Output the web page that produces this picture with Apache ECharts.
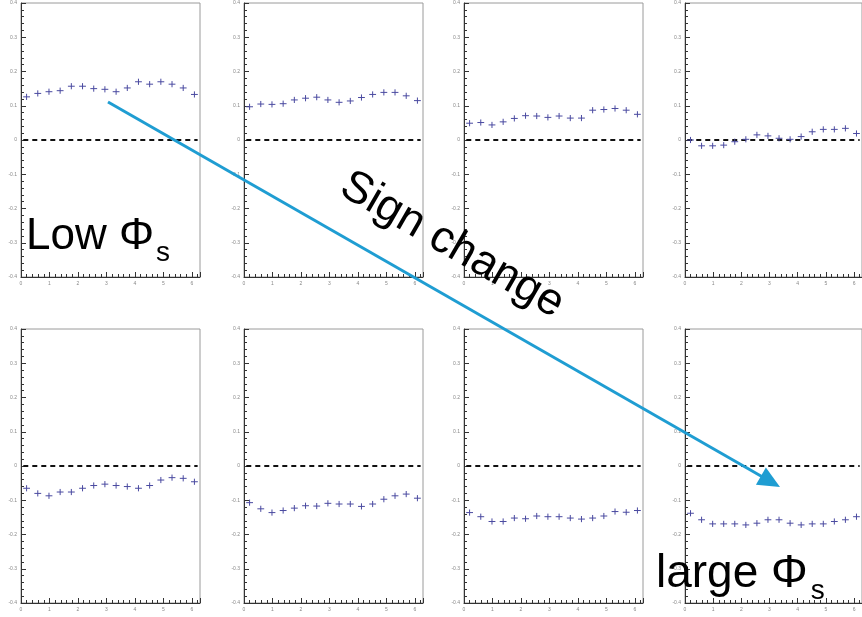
<!DOCTYPE html>
<html>
<head>
<meta charset="utf-8">
<script src="https://cdn.jsdelivr.net/npm/echarts@6/dist/echarts.min.js"></script>
<style>html,body{margin:0;padding:0;background:#fff}#c{width:862px;height:617px}</style>
</head>
<body>
<div id="c"></div>
<script>
// bin centres in phi (16 bins over 0..2pi)
const phiCenters = [0.196,0.589,0.982,1.374,1.767,2.160,2.553,2.945,3.338,3.731,4.123,4.516,4.909,5.301,5.694,6.087];
const xTickLabels = ['0','1','2','3','4','5','6'];
const yTickLabels = ['-0.4','-0.3','-0.2','-0.1','0','0.1','0.2','0.3','0.4'];
// asymmetry values per panel (row 1: low -> higher phi_s, row 2: continuing to large phi_s)
const panel1 = [0.126,0.136,0.141,0.144,0.157,0.157,0.150,0.148,0.141,0.152,0.170,0.163,0.170,0.163,0.152,0.133];
const panel2 = [0.097,0.105,0.104,0.106,0.117,0.122,0.125,0.117,0.110,0.114,0.124,0.133,0.139,0.139,0.129,0.115];
const panel3 = [0.049,0.051,0.044,0.053,0.063,0.071,0.070,0.066,0.070,0.064,0.064,0.087,0.089,0.092,0.087,0.075];
const panel4 = [0.000,-0.017,-0.017,-0.015,-0.005,0.002,0.015,0.012,0.005,0.002,0.010,0.024,0.031,0.031,0.034,0.019];
const panel5 = [-0.065,-0.080,-0.087,-0.076,-0.076,-0.065,-0.057,-0.053,-0.057,-0.060,-0.065,-0.057,-0.041,-0.034,-0.036,-0.046];
const panel6 = [-0.107,-0.125,-0.136,-0.130,-0.123,-0.116,-0.117,-0.109,-0.111,-0.111,-0.118,-0.111,-0.097,-0.087,-0.082,-0.094];
const panel7 = [-0.136,-0.148,-0.162,-0.162,-0.152,-0.154,-0.146,-0.148,-0.148,-0.152,-0.155,-0.152,-0.146,-0.133,-0.135,-0.130];
const panel8 = [-0.138,-0.157,-0.169,-0.169,-0.169,-0.172,-0.167,-0.157,-0.157,-0.167,-0.172,-0.169,-0.169,-0.162,-0.157,-0.148];
const panels = [panel1,panel2,panel3,panel4,panel5,panel6,panel7,panel8];
const yError = 0.009;
const xHalfWidth = 0.12;
const zeroLine = [[0.08,0],[6.2,0]];

const colLeft = [21, 244, 464, 685];
const rowTop = [3, 329];
const plotW = 179, plotH = 274;
const markColor = '#4a4aa0';

const grids = [], xAxes = [], yAxes = [], series = [];
panels.forEach((vals, i) => {
  const r = Math.floor(i / 4), c = i % 4;
  grids.push({left: colLeft[c], top: rowTop[r], width: plotW, height: plotH,
    show: true, borderColor: '#9a9a9a', borderWidth: 1, backgroundColor: '#fff'});
  xAxes.push({type: 'value', gridIndex: i, min: 0, max: 6.2832, interval: 1,
    axisLine: {show: true, onZero: false, lineStyle: {color: '#333', width: 1}},
    axisTick: {show: true, inside: true, length: 5, lineStyle: {color: '#333'}},
    minorTick: {show: true, splitNumber: 5, length: 3, lineStyle: {color: '#333'}},
    splitLine: {show: false},
    axisLabel: {fontSize: 5, color: '#888', margin: 4, showMaxLabel: false,
      formatter: v => xTickLabels[Math.round(v)] || ''}
  });
  yAxes.push({type: 'value', gridIndex: i, min: -0.4, max: 0.4, interval: 0.1,
    axisLine: {show: true, onZero: false, lineStyle: {color: '#333', width: 1}},
    axisTick: {show: true, inside: true, length: 5, lineStyle: {color: '#333'}},
    minorTick: {show: true, splitNumber: 5, length: 3, lineStyle: {color: '#333'}},
    splitLine: {show: false},
    axisLabel: {fontSize: 5, color: '#888', margin: 4,
      formatter: v => yTickLabels[Math.round((v + 0.4) * 10)] || ''}
  });
  series.push({type: 'line', xAxisIndex: i, yAxisIndex: i, data: zeroLine, symbol: 'none',
    silent: true, lineStyle: {color: '#111', width: 2, type: [5, 4]}, z: 2});
  series.push({type: 'custom', xAxisIndex: i, yAxisIndex: i, z: 3,
    data: vals.map((v, k) => [phiCenters[k], v]),
    renderItem: function (params, api) {
      const x = api.value(0), y = api.value(1);
      const c0 = api.coord([x, y]);
      const l = api.coord([x - xHalfWidth, y]);
      const rr = api.coord([x + xHalfWidth, y]);
      const t = api.coord([x, y + yError]);
      const b = api.coord([x, y - yError]);
      return {type: 'group', children: [
        {type: 'line', shape: {x1: l[0], y1: c0[1], x2: rr[0], y2: c0[1]}, style: {stroke: markColor, lineWidth: 1}},
        {type: 'line', shape: {x1: c0[0], y1: t[1], x2: c0[0], y2: b[1]}, style: {stroke: markColor, lineWidth: 1}}
      ]};
    }
  });
});

const arrowColor = '#1f9dd2';
const ax0 = 108, ay0 = 102, ax1 = 780, ay1 = 487;
const ang = Math.atan2(ay1 - ay0, ax1 - ax0);
const ux = Math.cos(ang), uy = Math.sin(ang);
const headL = 22, headW = 10;
const bx = ax1 - ux * headL, by = ay1 - uy * headL;
const font = 'Liberation Sans, Arial, sans-serif';

const chart = echarts.init(document.getElementById('c'), null, {renderer: 'canvas'});
chart.setOption({
  animation: false,
  backgroundColor: '#fff',
  grid: grids, xAxis: xAxes, yAxis: yAxes, series: series,
  graphic: [
    {type: 'line', z: 100, shape: {x1: ax0, y1: ay0, x2: bx + ux * 2, y2: by + uy * 2},
      style: {stroke: arrowColor, lineWidth: 3}},
    {type: 'polygon', z: 100, shape: {points: [[ax1, ay1], [bx - uy * headW, by + ux * headW], [bx + uy * headW, by - ux * headW]]},
      style: {fill: arrowColor}},
    {type: 'text', z: 101, left: 26, top: 215,
      style: {text: '{a|Low Φ}{s|s}', rich: {a: {fontSize: 44, fontFamily: font, fill: '#000'}, s: {fontSize: 28, fontFamily: font, fill: '#000', verticalAlign: 'bottom', padding: [0,0,-8,2]}}}},
    {type: 'text', z: 101, left: 656, top: 551,
      style: {text: '{a|large Φ}{s|s}', rich: {a: {fontSize: 46, fontFamily: font, fill: '#000'}, s: {fontSize: 28, fontFamily: font, fill: '#000', verticalAlign: 'bottom', padding: [0,0,-8,3]}}}},
    {type: 'text', z: 101, x: 452, y: 245, rotation: -Math.PI / 6,
      style: {text: 'Sign change', fontSize: 45, fontFamily: font, fill: '#000', align: 'center', verticalAlign: 'middle'}}
  ]
});
</script>
</body>
</html>
